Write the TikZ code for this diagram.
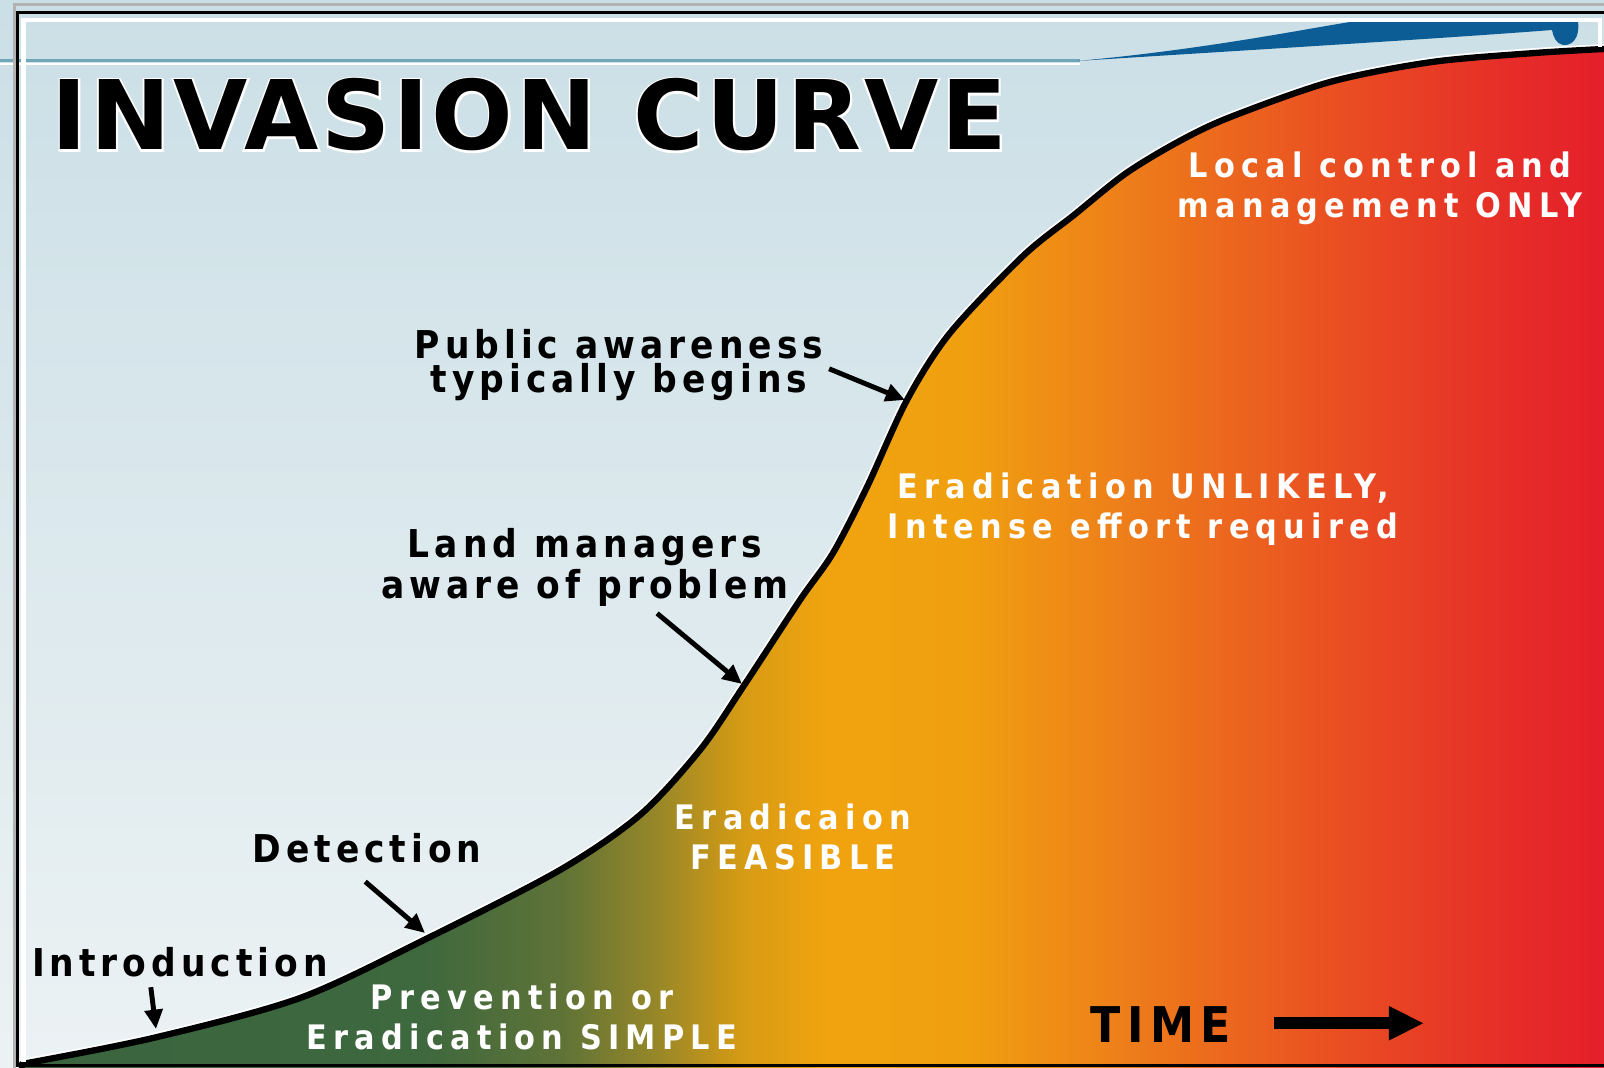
\documentclass[tikz,border=0pt]{standalone}
\usepackage{fontspec}
\usepackage{tikz}
\usetikzlibrary{arrows.meta}

\newfontfamily\titlefont{DejaVu Sans}[LetterSpace=3]
\newfontfamily\titlehalo{DejaVu Sans}[LetterSpace=3,FakeBold=4]
\newfontfamily\lblfont{DejaVu Sans}[FakeStretch=0.9,LetterSpace=13]
\newfontfamily\wlblfont{DejaVu Sans}[FakeStretch=0.9,LetterSpace=18.5]

% white outline behind black text
\newcommand\halo[2]{\rlap{#1\bfseries\color{white}#2}#2}

\definecolor{slidetop}{RGB}{203,223,230}
\definecolor{slidebot}{RGB}{236,242,244}
\definecolor{rule}{RGB}{112,168,184}
\definecolor{swoosh}{RGB}{12,92,150}

% green -> orange -> red under the curve
\pgfdeclarehorizontalshading{invasion}{100bp}{rgb(0bp)=(0.227,0.392,0.243);
  rgb(25bp)=(0.227,0.392,0.243);
  rgb(37.6bp)=(0.243,0.408,0.243);
  rgb(42bp)=(0.373,0.451,0.216);
  rgb(44.9bp)=(0.588,0.529,0.157);
  rgb(47.7bp)=(0.843,0.608,0.078);
  rgb(50.2bp)=(0.941,0.639,0.059);
  rgb(54.6bp)=(0.941,0.627,0.059);
  rgb(59.1bp)=(0.933,0.510,0.098);
  rgb(65.4bp)=(0.918,0.333,0.129);
  rgb(71.7bp)=(0.902,0.176,0.157);
  rgb(75bp)=(0.894,0.118,0.165);
  rgb(100bp)=(0.894,0.118,0.165)}

\begin{document}
\begin{tikzpicture}[x=0.01cm, y=-0.01cm,
    lbl/.style={font=\lblfont\bfseries\fontsize{10.9}{9.6}\selectfont, align=center, inner sep=0pt, anchor=north},
    wlbl/.style={font=\wlblfont\bfseries\fontsize{9.6}{11.4}\selectfont, text=white, align=center, inner sep=0pt, anchor=north},
    ptr/.style={-{Triangle[length=5.5pt,width=5pt]}, line width=1.4pt},
    timearr/.style={-{Triangle[length=10pt,width=9pt]}, line width=3.4pt},
    curve/.style={line width=1.8pt, line join=round, preaction={draw=white, line width=2.8pt}}]
    \useasboundingbox (0,0) rectangle (1604,1068);

    % background and the rule at the top
    \shade[top color=slidetop, bottom color=slidebot] (0,0) rectangle (1604,1068);
    \draw[white, line width=0.7pt] (0,64) -- (1080,64);
    \draw[rule, line width=1pt] (0,60.5) -- (1080,60.5);
    \fill[swoosh] (1077,61) .. controls (1200,50) and (1300,30) .. (1350,22) -- (1578,22)
        .. controls (1580,38) and (1572,46) .. (1563,45) .. controls (1556,44) and (1553,36) .. (1552,30)
        .. controls (1450,38) and (1250,50) .. (1077,61) -- cycle;

    % the curve
    \draw[curve, shade, shading=invasion] plot[smooth] coordinates {(22,1064) (153,1038) (300,998)
        (430,937) (560,870) (640,815) (700,750) (743,687) (800,600) (833,553) (867,487) (907,400)
        (950,333) (1023,256) (1074,215) (1125,174) (1176,143) (1228,118) (1330,82) (1432,62)
        (1535,53) (1604,49)} -- (1612,49) -- (1612,1076) -- (22,1076) -- cycle;

    % frame
    \draw[gray!60, line width=0.9pt] (14.5,4.5) rectangle (1620,1080);
    \draw[black, line width=1.1pt] (17.5,12.5) rectangle (1620,1065.5);
    \draw[white, line width=1.2pt] (1600,47) -- (1600,20) -- (23.5,20) -- (23.5,1062);

    \node[anchor=base west, inner sep=0pt, font=\titlefont\bfseries\fontsize{27.3}{30}\selectfont] (title) at (51,150) {\halo{\titlehalo}{INVASION CURVE}};

    \node[wlbl] (local) at (1380,151) {Local control and\\management ONLY};
    \node[lbl] (public) at (619,329) {Public awareness\\typically begins};
    \node[wlbl] (unlikely) at (1143,472) {Eradication UNLIKELY,\\Intense effort required};
    \node[lbl] (land) at (585,528) {Land managers\\aware of problem};
    \node[wlbl] (feasible) at (793,803) {Eradicaion\\FEASIBLE};
    \node[lbl] (detect) at (367,833) {Detection};
    \node[lbl] (intro) at (180,947) {Introduction};
    \node[wlbl] (prevent) at (522,983) {Prevention or\\Eradication SIMPLE};
    \node[lbl, font=\lblfont\bfseries\fontsize{14}{16}\selectfont] (time) at (1161,1006) {TIME};

    % points on the curve
    \coordinate (awaretip) at (905,400);
    \coordinate (landtip) at (742,684);
    \coordinate (detecttip) at (425,933);
    \coordinate (introtip) at (156,1029);

    \draw[ptr] ([xshift=1.5pt,yshift=-1pt]public.east) -- (awaretip);
    \draw[ptr] ([xshift=20.5pt,yshift=-1.7pt]land.south) -- (landtip);
    \draw[ptr] ([xshift=-0.5pt,yshift=-5pt]detect.south) -- (detecttip);
    \draw[ptr] ([xshift=-8.3pt,yshift=-2.6pt]intro.south) -- (introtip);
    \draw[timearr] ([xshift=12pt,yshift=0.4pt]time.east) -- ++(150,0);
\end{tikzpicture}
\end{document}
